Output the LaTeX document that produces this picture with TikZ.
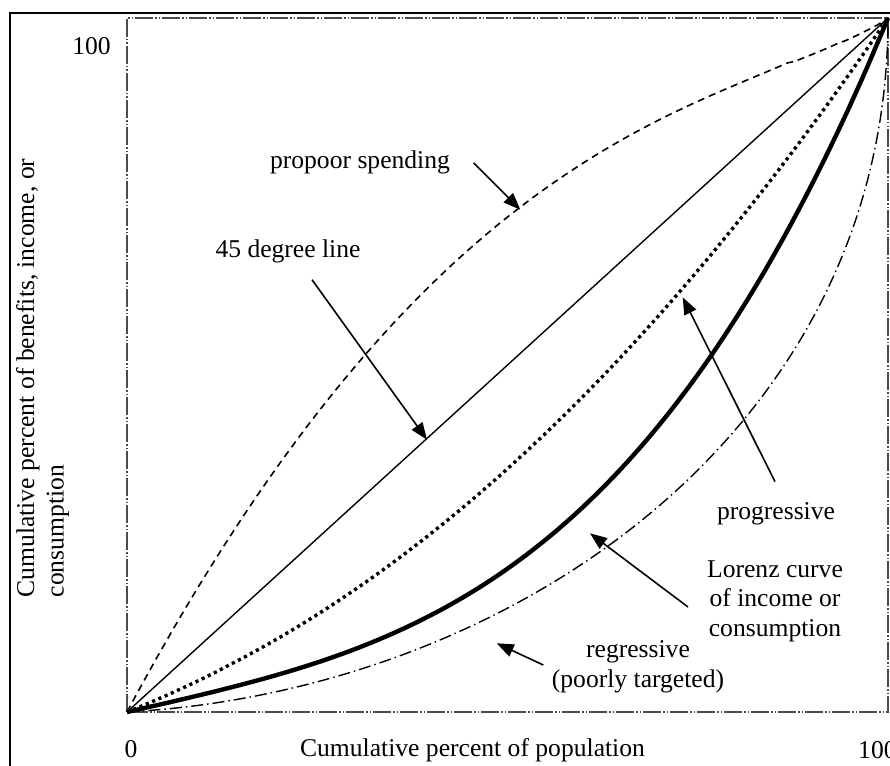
\documentclass[tikz,border=0pt]{standalone}
\usepackage{fontspec}
\setmainfont{Liberation Serif}
\usetikzlibrary{arrows.meta}
\begin{document}
\begin{tikzpicture}[x=1pt,y=-1pt,
  lbl/.style={font=\fontsize{25.6}{29.5}\selectfont, inner sep=0pt, align=center, text=black},
  ptr/.style={line width=1.6pt, -{Triangle[length=17pt,width=13pt]}},
  outerframe/.style={line width=2pt, draw=black},
  plotframe/.style={line width=1.3pt, draw=black!70, dash pattern=on 18pt off 2pt on 1.5pt off 2pt on 1.5pt off 2pt},
  diag/.style={line width=1.4pt},
  propoor/.style={line width=1.6pt, dash pattern=on 7pt off 5pt},
  progr/.style={line width=3.4pt, dash pattern=on 3.2pt off 3.6pt},
  lorenz/.style={line width=4.4pt},
  regr/.style={line width=1.4pt, dash pattern=on 12pt off 4pt on 1.5pt off 4pt}]
\useasboundingbox (0,0) rectangle (890,765);
% frames
\draw[outerframe] (10,13) rectangle (900,790);
\coordinate (O) at (127,712);
\coordinate (T) at (888,18);
\draw[plotframe] (O) rectangle (T);
% curves
\draw[diag] (O) -- (T);
\draw[propoor] (O) -- plot[domain=0.002:0.995, samples=120] ({127+761*\x},{712-694*(\x*(1+1.05*(1-\x)^1.3))}) -- (T);
\draw[progr] (O) -- plot[domain=0.005:1, samples=120] ({127+761*\x},{712-694*(0.44*\x+0.56*\x^2.1)}) -- (T);
\draw[lorenz] (O) -- plot[domain=0.005:1, samples=120] ({127+761*\x},{712-694*(0.25*\x+0.75*\x^3.2)}) -- (T);
\draw[regr] (O) .. controls ({127+761*0.5},{712-694*0.03}) and ({127+761*1},{712-694*0.4}) .. (T);
% labels
\node[lbl] (t100) at (91.5,46.5) {100};
\node[lbl] (tzero) at (131,749.5) {0};
\node[lbl, anchor=west] (r100) at (858,750) {100};
\node[lbl] (xlab) at (472.5,750) {Cumulative percent of population};
\node[lbl, rotate=90, align=left] (ylab) at (42.5,378) {Cumulative percent of benefits, income, or\\consumption};
\node[lbl] (lpro) at (360,162) {propoor spending};
\node[lbl] (l45) at (288,251) {45 degree line};
\node[lbl] (lprog) at (776,514) {progressive};
\node[lbl] (llor) at (775,601) {Lorenz curve\\of income or\\consumption};
\node[lbl] (lreg) at (638,667) {regressive\\(poorly targeted)};
% pointers
\coordinate (a1s) at (473.7,163);  \coordinate (a1t) at (520.3,209.7);
\coordinate (a2s) at (312,279.7);  \coordinate (a2t) at (427,439.7);
\coordinate (a3s) at (775,481.7);  \coordinate (a3t) at (682.7,297.3);
\coordinate (a4s) at (688,607);    \coordinate (a4t) at (590,533.3);
\coordinate (a5s) at (543.3,665);  \coordinate (a5t) at (496.7,643.3);
\draw[ptr] (a1s) -- (a1t);
\draw[ptr] (a2s) -- (a2t);
\draw[ptr] (a3s) -- (a3t);
\draw[ptr] (a4s) -- (a4t);
\draw[ptr] (a5s) -- (a5t);
\end{tikzpicture}
\end{document}
